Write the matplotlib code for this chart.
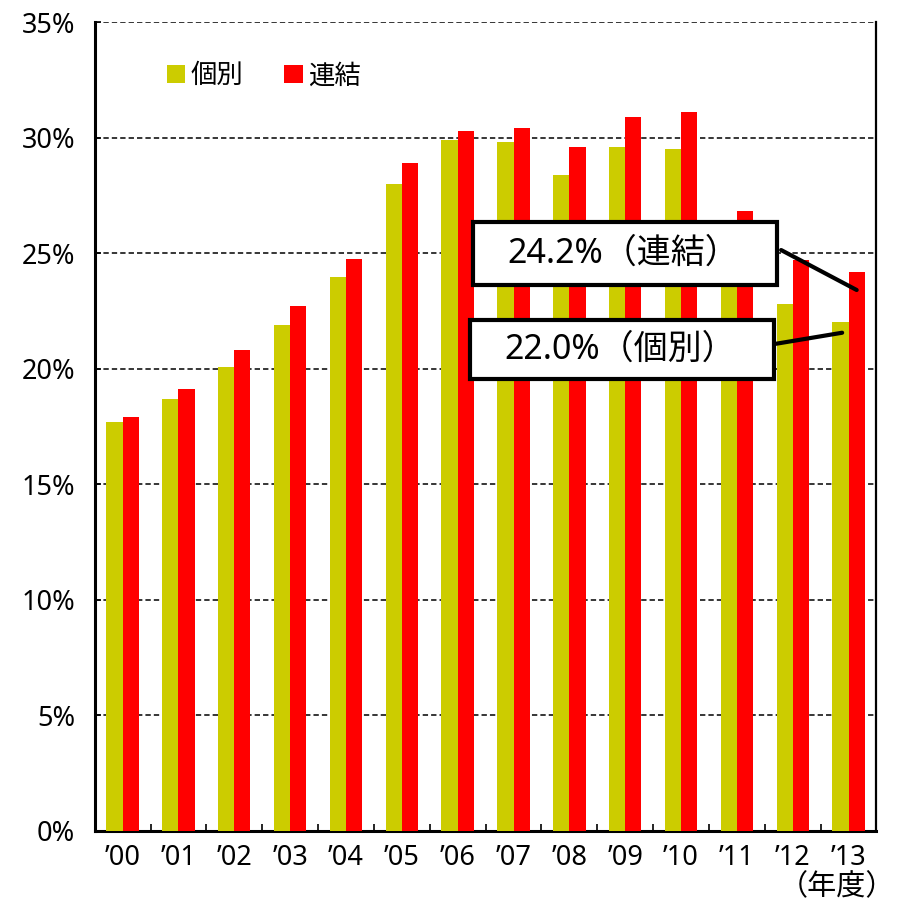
import matplotlib
matplotlib.use("Agg")
import matplotlib.pyplot as plt
import numpy as np
from matplotlib.patches import Patch, Rectangle

plt.rcParams['font.family'] = ['Noto Sans', 'Noto Sans CJK JP', 'DejaVu Sans']

years = ["’00", "’01", "’02", "’03", "’04", "’05", "’06", "’07", "’08", "’09", "’10", "’11", "’12", "’13"]
kobetsu = [17.7, 18.7, 20.05, 21.9, 23.95, 28.0, 29.9, 29.8, 28.4, 29.6, 29.5, 25.5, 22.8, 22.0]
renketsu = [17.9, 19.1, 20.8, 22.7, 24.75, 28.9, 30.3, 30.4, 29.6, 30.9, 31.1, 26.8, 24.7, 24.2]
series_names = ["個別", "連結"]
yticks = [0, 5, 10, 15, 20, 25, 30, 35]
callout_renketsu = "24.2%（連結）"
callout_kobetsu = "22.0%（個別）"
unit_label = "（年度）"

c_yellow = "#CCCC00"
c_red = "#FF0000"

fig = plt.figure(figsize=(9.01, 9.07), dpi=100)
ax = fig.add_axes([0.1051, 0.0843, 0.8677, 0.8914])

x = np.arange(len(years))
w = 0.29
ax.bar(x - w / 2, kobetsu, width=w, color=c_yellow, zorder=3, linewidth=0)
ax.bar(x + w / 2, renketsu, width=w, color=c_red, zorder=3, linewidth=0)

ax.set_xlim(-0.5, len(years) - 0.5)
ax.set_ylim(0, 35)
ax.set_yticks(yticks)
ax.set_yticklabels([f"{v}%" for v in yticks], fontsize=19.5)
ax.set_xticks(x)
ax.set_xticklabels(years, fontsize=19.5)
ax.set_xticks(np.arange(0.5, len(years) - 1, 1), minor=True)
ax.tick_params(axis='x', which='major', length=0, pad=10)
ax.tick_params(axis='x', which='minor', direction='in', length=5, width=1.2)
ax.tick_params(axis='y', direction='in', length=4, width=1.2, pad=14)

for v in yticks[1:]:
    ax.axhline(v, color='black', linewidth=1.1, linestyle=(0, (3.5, 2)), zorder=1)

ax.spines['top'].set_visible(False)
ax.spines['left'].set_linewidth(2.2)
ax.spines['bottom'].set_linewidth(2.2)
ax.spines['right'].set_linewidth(1.6)

# legend
handles = [Patch(facecolor=c_yellow, edgecolor='none'), Patch(facecolor=c_red, edgecolor='none')]
ax.legend(handles, series_names, loc='center left', bbox_to_anchor=(0.062, 0.933), ncol=2,
          frameon=False, fontsize=19, handlelength=0.7, handleheight=0.7,
          handletextpad=0.2, columnspacing=1.55)

# callout boxes
def callout(x0, x1, y0, y1, text, start, target):
    rect = Rectangle((x0, y0), x1 - x0, y1 - y0, transform=ax.transAxes,
                     facecolor='white', edgecolor='black', linewidth=3, zorder=6)
    ax.add_patch(rect)
    ax.text((x0 + x1) / 2 - 0.002, (y0 + y1) / 2, text, transform=ax.transAxes,
            ha='center', va='center', fontsize=24.5, zorder=7)
    ax.annotate("", xy=target, xycoords='data', xytext=start, textcoords='axes fraction',
                arrowprops=dict(arrowstyle='-', color='black', linewidth=3,
                                shrinkA=0, shrinkB=0), zorder=5)

n = len(years) - 1
callout(0.4839, 0.8727, 0.6747, 0.7526, callout_renketsu,
        (0.878, 0.718), (n + w / 2, renketsu[n] - 0.8))
callout(0.480, 0.8689, 0.5584, 0.6314, callout_kobetsu,
        (0.871, 0.602), (n - w / 2 + 0.03, kobetsu[n] - 0.45))

fig.text(0.929, 0.005, unit_label, ha='center', va='bottom', fontsize=21)

fig.savefig("out.png", dpi=100, facecolor='white')
